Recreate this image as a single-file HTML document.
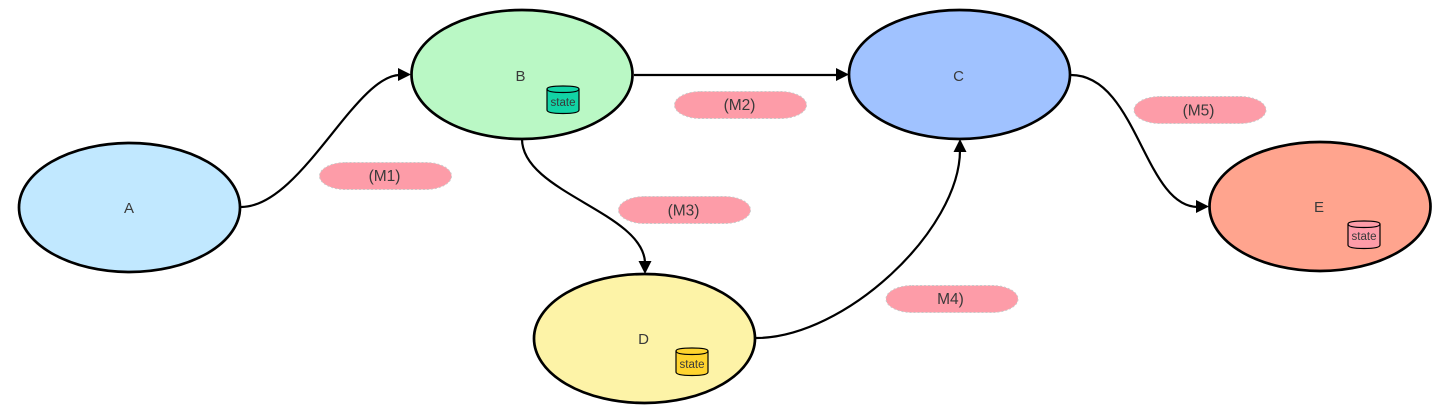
<!DOCTYPE html>
<html>
<head>
<meta charset="utf-8">
<style>
html,body{margin:0;padding:0;background:#fff;width:1456px;height:414px;overflow:hidden}
svg{display:block}
text{font-family:"Liberation Sans",sans-serif;fill:#3a3a3a;text-anchor:middle}
.n{font-size:15px}
.s{font-size:11.5px}
.m{font-size:15.500px}
.node{stroke:#000;stroke-width:2.700}
.edge{fill:none;stroke:#000;stroke-width:2.200}
.pill{fill:#fd9ca8;stroke:#c9c9c9;stroke-width:1;stroke-dasharray:2 2}
.cyl{stroke:#000;stroke-width:1.200}
</style>
</head>
<body>
<svg width="1456" height="414" viewBox="0 0 1456 414" xmlns="http://www.w3.org/2000/svg">
<path class="edge" d="M241 207C301 207 355 75 400 75"/>
<path d="M411 74.500L398 68V81Z"/>
<path class="edge" d="M634 75H838"/>
<path d="M849 74.500L836 68V81Z"/>
<path class="edge" d="M522 139C522 192 642 212 645 262"/>
<path d="M645 274L638.500 261H651.500Z"/>
<path class="edge" d="M756 338C845 338 960 230 960 150"/>
<path d="M960 139L953.500 152H966.500Z"/>
<path class="edge" d="M1071 75C1137 75 1144 207 1198 207"/>
<path d="M1209 206.500L1196 200V213Z"/>

<ellipse class="node" cx="129.500" cy="207.500" rx="110.500" ry="64.500" fill="#c1e8ff"/>
<ellipse class="node" cx="522" cy="74.500" rx="110.500" ry="64.500" fill="#baf8c5"/>
<ellipse class="node" cx="959.500" cy="74.500" rx="110.500" ry="64.500" fill="#a0c2ff"/>
<ellipse class="node" cx="644.500" cy="338.500" rx="110.500" ry="64.500" fill="#fdf3a7"/>
<ellipse class="node" cx="1320" cy="206.500" rx="110.500" ry="64.500" fill="#ffa48e"/>

<text class="n" x="129" y="213">A</text>
<text class="n" x="520.500" y="81">B</text>
<text class="n" x="958.500" y="81">C</text>
<text class="n" x="643.500" y="344">D</text>
<text class="n" x="1319" y="212">E</text>

<path class="cyl" fill="#12d3a5" d="M547 89V110Q547 113.500 563 113.500T579 110V89Q579 86 563 86T547 89Z"/>
<path fill="none" class="cyl" d="M547 89Q547 92.500 563 92.500T579 89"/>
<text class="s" x="563" y="106">state</text>

<path class="cyl" fill="#ffd42e" d="M676 351V372Q676 375.500 692 375.500T708 372V351Q708 348 692 348T676 351Z"/>
<path fill="none" class="cyl" d="M676 351Q676 354.500 692 354.500T708 351"/>
<text class="s" x="692" y="368">state</text>

<path class="cyl" fill="#fd9ca8" d="M1348 224V245Q1348 248.500 1364 248.500T1380 245V224Q1380 221 1364 221T1348 224Z"/>
<path fill="none" class="cyl" d="M1348 224Q1348 227.500 1364 227.500T1380 224"/>
<text class="s" x="1364" y="240">state</text>

<rect class="pill" x="319.500" y="162.500" width="132" height="27" rx="26" ry="13.500"/>
<rect class="pill" x="674.500" y="91.500" width="132" height="27" rx="26" ry="13.500"/>
<rect class="pill" x="618.500" y="196.500" width="132" height="27" rx="26" ry="13.500"/>
<rect class="pill" x="886" y="285.500" width="132" height="27" rx="26" ry="13.500"/>
<rect class="pill" x="1134" y="96.500" width="132" height="27" rx="26" ry="13.500"/>

<text class="m" x="384.500" y="181">(M1)</text>
<text class="m" x="739.500" y="110">(M2)</text>
<text class="m" x="683.500" y="215.500">(M3)</text>
<text class="m" x="950.500" y="304">M4)</text>
<text class="m" x="1198.500" y="115.500">(M5)</text>
</svg>
</body>
</html>
